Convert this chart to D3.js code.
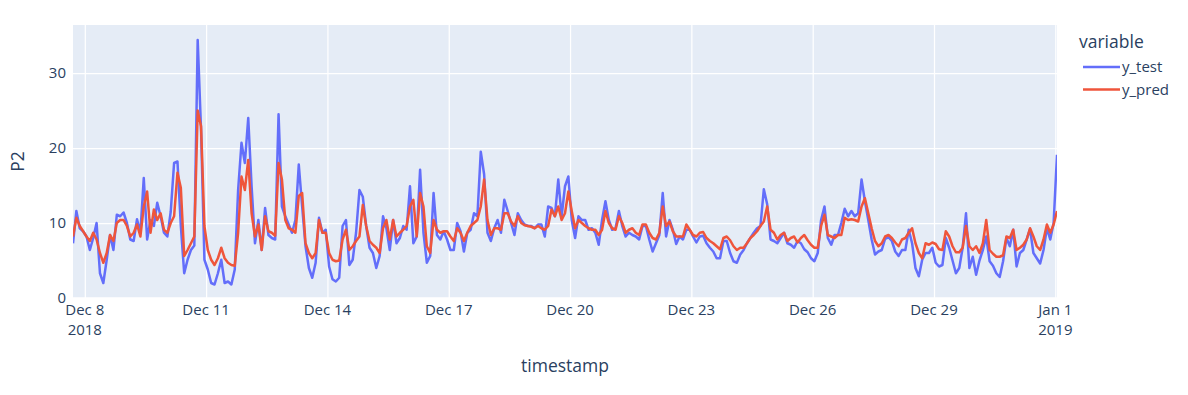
<!DOCTYPE html>
<html>
<head>
<meta charset="utf-8">
<script src="https://cdn.jsdelivr.net/npm/d3@7"></script>
<style>
  body { margin: 0; background: #fff; }
  svg text { font-family: "Open Sans", verdana, arial, sans-serif; fill: #2a3f5f; }
</style>
</head>
<body>
<div id="chart"></div>
<script>
// series sampled every 2 hours, starting 2018-12-07 17:00
var startTime = new Date(2018, 11, 7, 17, 0);
var stepHours = 2;

var yTest = [
  7.3, 11.6, 9.3, 8.9, 8.2, 6.4, 8.0, 10.0, 3.3, 2.0, 5.1, 8.4,
  6.4, 11.1, 10.9, 11.4, 10.0, 7.8, 7.6, 10.5, 8.7, 16.0, 7.8, 10.4,
  9.6, 12.7, 10.9, 8.7, 8.2, 11.5, 18.0, 18.2, 9.6, 3.3, 5.1, 6.4,
  7.0, 34.4, 22.4, 5.1, 3.8, 2.0, 1.8, 3.3, 5.1, 2.0, 2.2, 1.8,
  3.8, 14.4, 20.7, 18.0, 24.0, 14.9, 7.3, 10.4, 6.4, 12.0, 8.4, 8.0,
  7.8, 24.5, 12.2, 10.9, 9.8, 8.7, 10.4, 17.8, 12.2, 6.9, 4.0, 2.7,
  4.7, 10.7, 8.7, 9.1, 4.2, 2.5, 2.2, 2.7, 9.6, 10.4, 4.4, 5.1,
  8.7, 14.4, 13.5, 9.6, 6.7, 6.0, 4.0, 5.6, 10.9, 9.3, 6.4, 10.4,
  7.3, 8.0, 9.6, 9.1, 14.9, 7.3, 8.2, 17.1, 8.7, 4.7, 5.6, 14.0,
  8.4, 7.8, 8.9, 7.8, 6.4, 6.4, 10.0, 8.9, 6.2, 8.7, 9.1, 11.3,
  10.9, 19.5, 16.5, 8.7, 7.6, 9.3, 10.4, 8.7, 13.1, 11.6, 10.0, 8.4,
  11.3, 10.4, 9.8, 9.6, 9.6, 9.3, 9.8, 9.8, 8.2, 12.2, 12.0, 10.9,
  15.8, 10.9, 14.9, 16.2, 10.4, 8.0, 10.9, 10.4, 10.4, 9.1, 9.3, 8.7,
  7.1, 10.4, 12.9, 10.4, 9.1, 9.3, 11.6, 9.6, 8.2, 8.7, 8.4, 8.2,
  7.8, 9.6, 9.6, 7.8, 6.2, 7.3, 8.4, 14.0, 8.2, 10.4, 9.1, 7.2,
  8.2, 7.8, 9.1, 9.1, 8.2, 7.4, 8.2, 8.3, 7.3, 6.7, 6.2, 5.3,
  5.3, 7.6, 7.6, 6.0, 4.9, 4.7, 5.8, 6.4, 7.3, 8.0, 8.7, 9.3,
  9.6, 14.5, 12.5, 7.8, 7.6, 7.3, 8.0, 8.7, 7.3, 7.1, 6.7, 7.6,
  7.3, 6.5, 6.1, 5.3, 4.9, 6.0, 10.4, 12.2, 8.0, 7.1, 8.4, 8.4,
  10.0, 11.9, 10.9, 11.6, 10.9, 11.3, 15.8, 12.9, 10.4, 7.8, 5.8, 6.2,
  6.4, 7.9, 8.1, 7.6, 6.2, 5.6, 6.4, 6.4, 9.1, 7.3, 4.0, 2.9,
  5.1, 6.0, 6.0, 6.7, 4.7, 4.2, 4.4, 8.0, 6.7, 5.0, 3.3, 4.0,
  6.7, 11.3, 4.0, 5.5, 3.1, 5.0, 6.4, 8.2, 4.9, 4.3, 3.3, 2.8,
  4.9, 8.0, 6.9, 9.1, 4.2, 6.0, 6.4, 7.8, 9.2, 6.0, 5.3, 4.6,
  6.4, 9.3, 7.8, 10.0, 19.1
];

var yPred = [
  8.2, 10.7, 9.6, 8.9, 8.2, 7.6, 8.7, 7.8, 6.0, 4.7, 6.0, 8.4,
  7.6, 10.0, 10.4, 10.4, 9.6, 8.2, 8.7, 9.8, 8.2, 12.2, 14.2, 8.7,
  11.8, 10.4, 11.3, 9.1, 8.7, 10.0, 10.9, 16.7, 14.7, 5.6, 6.4, 7.3,
  8.2, 25.0, 22.9, 9.6, 6.4, 5.1, 4.4, 5.3, 6.7, 5.3, 4.7, 4.4,
  4.3, 8.7, 16.2, 14.4, 18.4, 11.3, 8.2, 9.8, 6.4, 10.9, 8.9, 8.7,
  8.3, 18.0, 15.8, 10.4, 9.3, 9.1, 8.7, 13.6, 14.0, 7.3, 6.0, 5.3,
  6.0, 10.4, 8.7, 8.7, 6.0, 5.1, 4.9, 5.0, 7.8, 9.1, 6.4, 6.9,
  7.6, 8.2, 12.4, 9.6, 7.6, 7.1, 6.7, 6.0, 9.3, 10.4, 7.8, 10.4,
  8.2, 8.7, 9.1, 9.6, 12.2, 13.1, 8.2, 14.0, 12.2, 6.9, 6.0, 10.4,
  9.1, 8.7, 8.9, 8.9, 8.2, 7.6, 9.3, 8.7, 7.6, 8.7, 9.6, 10.0,
  10.4, 12.2, 15.8, 10.4, 8.4, 9.3, 9.3, 9.1, 11.3, 11.3, 10.2, 9.6,
  10.9, 10.0, 9.7, 9.6, 9.5, 9.3, 9.6, 9.3, 9.1, 9.6, 11.8, 10.9,
  12.2, 10.4, 11.3, 14.2, 11.6, 9.3, 10.4, 10.0, 9.6, 9.3, 9.1, 9.1,
  8.4, 9.1, 11.6, 10.0, 9.3, 9.1, 10.9, 10.0, 8.7, 9.1, 9.3, 8.7,
  8.4, 9.8, 9.8, 8.7, 8.0, 7.8, 8.7, 12.2, 9.6, 10.2, 8.9, 8.2,
  8.2, 8.2, 9.8, 9.1, 8.4, 8.2, 8.7, 8.8, 8.0, 7.6, 7.3, 6.9,
  6.5, 8.0, 8.2, 7.7, 6.9, 6.4, 6.7, 6.7, 7.3, 8.0, 8.4, 8.9,
  9.6, 10.2, 12.2, 9.1, 8.7, 7.8, 8.4, 8.7, 7.6, 8.0, 8.2, 7.4,
  8.0, 8.4, 7.7, 7.1, 6.7, 6.7, 9.6, 11.1, 8.4, 8.2, 8.0, 8.4,
  8.4, 10.7, 10.4, 10.5, 10.4, 10.2, 12.2, 13.3, 11.3, 9.3, 7.6, 6.9,
  7.3, 8.2, 8.4, 8.0, 7.4, 6.9, 7.8, 8.0, 8.7, 9.3, 7.3, 6.0,
  5.3, 7.3, 7.1, 7.4, 7.2, 6.5, 6.4, 8.9, 8.2, 6.9, 6.1, 6.1,
  6.7, 9.6, 6.9, 6.4, 6.9, 6.0, 7.3, 10.4, 6.4, 5.9, 5.5, 5.5,
  5.7, 8.2, 8.0, 9.1, 6.4, 6.7, 7.1, 7.8, 9.3, 8.2, 6.9, 6.4,
  7.8, 9.8, 8.7, 9.8, 11.6
];

var seriesNames = ["y_test", "y_pred"];
var seriesColors = ["#636efa", "#EF553B"];
var yTicks = [0, 10, 20, 30];
var xTickDates = [
  new Date(2018, 11, 8), new Date(2018, 11, 11), new Date(2018, 11, 14),
  new Date(2018, 11, 17), new Date(2018, 11, 20), new Date(2018, 11, 23),
  new Date(2018, 11, 26), new Date(2018, 11, 29), new Date(2019, 0, 1)
];

var width = 1188;
var height = 395;
var margin = { left: 73, right: 131, top: 25, bottom: 97 };
var tickFont = 15;
var titleFont = 17.5;

var timeOf = function(i) { return new Date(startTime.getTime() + i * stepHours * 3600000); };

var x = d3.scaleTime()
  .domain([startTime, timeOf(yTest.length - 1)])
  .range([margin.left, width - margin.right]);

var y = d3.scaleLinear()
  .domain([0, 36.4])
  .range([height - margin.bottom, margin.top]);

var svg = d3.select('#chart')
  .append('svg')
  .attr('width', width)
  .attr('height', height);

svg.append('rect')
  .attr('x', margin.left)
  .attr('y', margin.top)
  .attr('width', width - margin.left - margin.right)
  .attr('height', height - margin.top - margin.bottom)
  .attr('fill', '#E5ECF6');

svg.append('clipPath').attr('id', 'clip')
  .append('rect')
  .attr('x', margin.left)
  .attr('y', margin.top)
  .attr('width', width - margin.left - margin.right)
  .attr('height', height - margin.top - margin.bottom);

// grid lines
var xAxis = d3.axisBottom(x)
  .tickValues(xTickDates)
  .tickSize(-(height - margin.top - margin.bottom))
  .tickFormat('');

svg.append('g')
  .attr('transform', 'translate(0,' + (height - margin.bottom) + ')')
  .call(xAxis)
  .call(function(g) { g.select('.domain').remove(); })
  .selectAll('line')
  .attr('stroke', '#fff')
  .attr('stroke-width', 1.25);

var yAxis = d3.axisLeft(y)
  .tickValues(yTicks)
  .tickSize(-(width - margin.left - margin.right))
  .tickPadding(7)
  .tickFormat(d3.format('d'));

var yg = svg.append('g')
  .attr('transform', 'translate(' + margin.left + ',0)')
  .call(yAxis);
yg.select('.domain').remove();
yg.selectAll('line')
  .attr('stroke', '#fff')
  .attr('stroke-width', function(d) { return d === 0 ? 2.5 : 1.25; });
yg.selectAll('text')
  .attr('font-size', tickFont)
  .style('fill', '#2a3f5f');

// x tick labels, with year on a second line for the first tick and on year change
var fmtDay = d3.timeFormat('%b %-d');
var xl = svg.append('g');
xTickDates.forEach(function(d, i) {
  var t = xl.append('text')
    .attr('x', x(d))
    .attr('y', height - margin.bottom + 17)
    .attr('text-anchor', 'middle')
    .attr('font-size', tickFont);
  t.append('tspan').text(fmtDay(d));
  if (i === 0 || d.getFullYear() !== xTickDates[i - 1].getFullYear()) {
    t.append('tspan')
      .attr('x', x(d))
      .attr('dy', 20)
      .text(d.getFullYear());
  }
});

// lines
var line = d3.line()
  .x(function(d, i) { return x(timeOf(i)); })
  .y(function(d) { return y(d); });

[yTest, yPred].forEach(function(s, k) {
  svg.append('path')
    .datum(s)
    .attr('clip-path', 'url(#clip)')
    .attr('fill', 'none')
    .attr('stroke', seriesColors[k])
    .attr('stroke-width', 2.5)
    .attr('stroke-linejoin', 'round')
    .attr('d', line);
});

// axis titles
svg.append('text')
  .attr('x', (margin.left + width - margin.right) / 2)
  .attr('y', 372)
  .attr('text-anchor', 'middle')
  .attr('font-size', titleFont)
  .text('timestamp');

svg.append('text')
  .attr('transform', 'translate(24,' + ((margin.top + height - margin.bottom) / 2) + ') rotate(-90)')
  .attr('text-anchor', 'middle')
  .attr('font-size', titleFont)
  .text('P2');

// legend
var legend = svg.append('g').attr('transform', 'translate(1078,0)');
legend.append('text')
  .attr('x', 1)
  .attr('y', 48)
  .attr('font-size', titleFont)
  .text('variable');

seriesNames.forEach(function(name, i) {
  var ly = 67 + i * 22.5;
  legend.append('line')
    .attr('x1', 5).attr('x2', 42)
    .attr('y1', ly).attr('y2', ly)
    .attr('stroke', seriesColors[i])
    .attr('stroke-width', 2.5);
  legend.append('text')
    .attr('x', 44)
    .attr('y', ly + 5)
    .attr('font-size', tickFont)
    .text(name);
});
</script>
</body>
</html>
